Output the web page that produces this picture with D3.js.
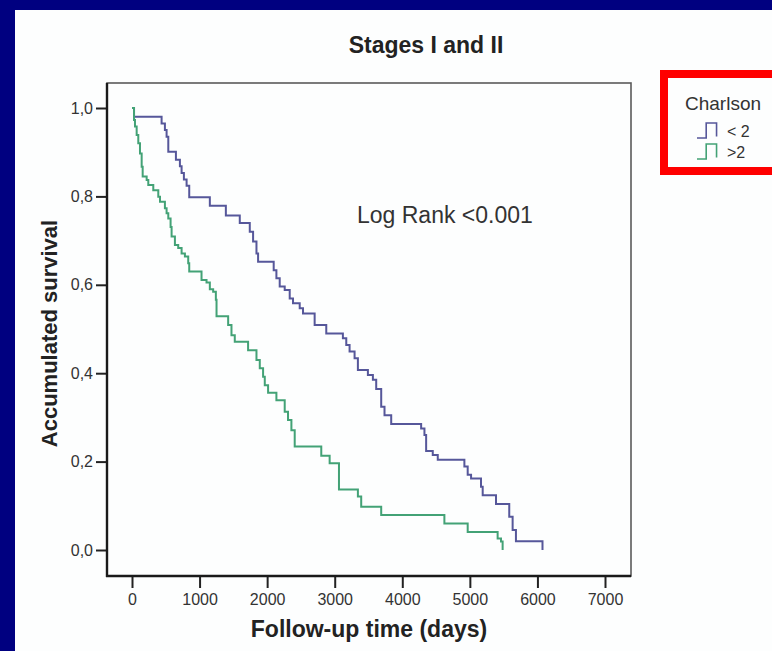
<!DOCTYPE html>
<html>
<head>
<meta charset="utf-8">
<script src="https://cdn.jsdelivr.net/npm/d3@7/dist/d3.min.js"></script>
<style>
    body { margin: 0; background: #000080; }
    svg { display: block; }
    text { font-family: "Liberation Sans", Arial, sans-serif; }
</style>
</head>
<body>
<div id="chart"></div>
<script>
// Kaplan-Meier steps: time in days, survival after that time
let lowTimes = [0, 30, 438, 487, 512, 537, 650, 709, 734, 768, 808, 847, 1152, 1389, 1595, 1743,
    1792, 1842, 1866, 2097, 2137, 2186, 2260, 2334, 2383, 2482, 2531, 2703, 2875, 3121, 3171,
    3220, 3294, 3343, 3491, 3565, 3614, 3688, 3737, 3836, 4279, 4328, 4353, 4451, 4525, 4919,
    4968, 5018, 5165, 5190, 5387, 5583, 5633, 5682, 6075];
let lowSurv = [1.0, 0.980, 0.965, 0.950, 0.935, 0.901, 0.883, 0.868, 0.853, 0.838, 0.824, 0.798,
    0.779, 0.757, 0.740, 0.720, 0.698, 0.671, 0.652, 0.633, 0.615, 0.596, 0.588, 0.569, 0.558,
    0.547, 0.535, 0.509, 0.490, 0.479, 0.464, 0.449, 0.434, 0.407, 0.396, 0.385, 0.364, 0.324,
    0.305, 0.285, 0.275, 0.260, 0.224, 0.215, 0.204, 0.189, 0.170, 0.162, 0.143, 0.124, 0.104,
    0.075, 0.045, 0.020, 0.0];

let highTimes = [0, 30, 44, 69, 93, 118, 143, 158, 217, 241, 315, 389, 414, 487, 512, 537, 571,
    586, 635, 684, 734, 783, 832, 847, 1029, 1103, 1152, 1201, 1241, 1251, 1423, 1472, 1521,
    1718, 1842, 1891, 1940, 1965, 2014, 2137, 2260, 2309, 2359, 2408, 2801, 2925, 3063, 3343,
    3392, 3688, 4623, 4968, 5411, 5461, 5485];
let highSurv = [1.0, 0.973, 0.958, 0.939, 0.920, 0.897, 0.867, 0.845, 0.837, 0.826, 0.814, 0.799,
    0.788, 0.773, 0.762, 0.750, 0.731, 0.709, 0.690, 0.683, 0.671, 0.664, 0.649, 0.630, 0.611,
    0.605, 0.590, 0.584, 0.566, 0.529, 0.509, 0.486, 0.471, 0.452, 0.430, 0.411, 0.392, 0.373,
    0.356, 0.339, 0.313, 0.294, 0.271, 0.234, 0.213, 0.196, 0.137, 0.121, 0.098, 0.079, 0.060,
    0.041, 0.026, 0.019, 0.0];

let xTicks = [0, 1000, 2000, 3000, 4000, 5000, 6000, 7000];
let yTicks = [0, 0.2, 0.4, 0.6, 0.8, 1.0];
let groupNames = ["< 2", ">2"];
let groupColors = ["#56579a", "#43a276"];

let svgWidth = 772, svgHeight = 651;
// plot frame
let frame = {left: 107, top: 83, right: 631, bottom: 576};

let svg = d3.select("#chart").append("svg")
    .attr("width", svgWidth)
    .attr("height", svgHeight);

// blue slide background and white panel
svg.append("rect")
    .attr("width", svgWidth).attr("height", svgHeight)
    .attr("fill", "#000080");
svg.append("rect")
    .attr("x", 15).attr("y", 10)
    .attr("width", svgWidth - 15).attr("height", svgHeight - 10)
    .attr("fill", "#fdfefe");

let xScale = d3.scaleLinear()
    .domain([0, 7000])
    .range([132, 605]);

let yScale = d3.scaleLinear()
    .domain([0, 1])
    .range([550, 108]);

// frame: thin grey top/right, darker axes left/bottom
svg.append("rect")
    .attr("x", frame.left).attr("y", frame.top)
    .attr("width", frame.right - frame.left)
    .attr("height", frame.bottom - frame.top)
    .attr("fill", "none")
    .attr("stroke", "#5a5a5a")
    .attr("stroke-width", 1.6);

let commaFormat = d => d3.format(".1f")(d).replace(".", ",");

let yAxis = svg.append("g")
    .attr("transform", `translate(${frame.left},0)`)
    .call(d3.axisLeft(yScale).tickValues(yTicks).tickFormat(commaFormat)
        .tickSize(11).tickSizeOuter(0).tickPadding(3));
yAxis.select(".domain").remove();
yAxis.selectAll("line").attr("stroke", "#222").attr("stroke-width", 2);
yAxis.selectAll("text")
    .attr("font-size", "16px")
    .attr("fill", "#333")
    .attr("font-family", "Liberation Sans, Arial, sans-serif");

let xAxis = svg.append("g")
    .attr("transform", `translate(0,${frame.bottom})`)
    .call(d3.axisBottom(xScale).tickValues(xTicks).tickFormat(d3.format("d"))
        .tickSize(12).tickSizeOuter(0).tickPadding(6));
xAxis.select(".domain").remove();
xAxis.selectAll("line").attr("stroke", "#222").attr("stroke-width", 2);
xAxis.selectAll("text")
    .attr("font-size", "16px")
    .attr("fill", "#333")
    .attr("font-family", "Liberation Sans, Arial, sans-serif");

// darker axis lines
svg.append("line")
    .attr("x1", frame.left).attr("x2", frame.left)
    .attr("y1", frame.top).attr("y2", frame.bottom + 1)
    .attr("stroke", "#1a1a1a").attr("stroke-width", 2.4);
svg.append("line")
    .attr("x1", frame.left - 1).attr("x2", frame.right)
    .attr("y1", frame.bottom).attr("y2", frame.bottom)
    .attr("stroke", "#1a1a1a").attr("stroke-width", 2.4);

// survival curves
let stepLine = d3.line()
    .x(d => xScale(d[0]))
    .y(d => yScale(d[1]))
    .curve(d3.curveStepAfter);

let curves = [d3.zip(lowTimes, lowSurv), d3.zip(highTimes, highSurv)];

svg.selectAll(".km")
    .data(curves)
    .enter().append("path")
    .attr("class", "km")
    .attr("d", stepLine)
    .attr("fill", "none")
    .attr("stroke", (d, i) => groupColors[i])
    .attr("stroke-width", 2);

// titles
svg.append("text")
    .attr("x", 426).attr("y", 53)
    .attr("text-anchor", "middle")
    .attr("font-size", "23px")
    .attr("font-weight", "bold")
    .attr("fill", "#222")
    .text("Stages I and II");

svg.append("text")
    .attr("x", (frame.left + frame.right) / 2).attr("y", 637)
    .attr("text-anchor", "middle")
    .attr("font-size", "23px")
    .attr("font-weight", "bold")
    .attr("fill", "#222")
    .text("Follow-up time (days)");

svg.append("text")
    .attr("transform", `translate(57,${(frame.top + frame.bottom) / 2 + 4}) rotate(-90)`)
    .attr("text-anchor", "middle")
    .attr("font-size", "22px")
    .attr("font-weight", "bold")
    .attr("fill", "#222")
    .text("Accumulated survival");

svg.append("text")
    .attr("x", 357).attr("y", 223)
    .attr("font-size", "23px")
    .attr("fill", "#333")
    .text("Log Rank <0.001");

// legend in red box
let legend = svg.append("g");
legend.append("rect")
    .attr("x", 664).attr("y", 74)
    .attr("width", 200).attr("height", 97)
    .attr("fill", "#fdfefe")
    .attr("stroke", "#ff0000")
    .attr("stroke-width", 8);

legend.append("text")
    .attr("x", 685).attr("y", 110)
    .attr("font-size", "19px")
    .attr("fill", "#333")
    .text("Charlson");

let iconX = d3.scaleLinear().domain([0, 1]).range([697, 720]);
let iconShape = [[0, 0], [0.4, 1], [0.85, 0.1], [0.85, 0.1]];

let items = legend.selectAll(".item")
    .data(groupNames)
    .enter().append("g")
    .attr("class", "item")
    .attr("transform", (d, i) => `translate(0,${i * 21})`);

items.append("path")
    .attr("d", () => {
        let iconY = d3.scaleLinear().domain([0, 1]).range([138, 123]);
        return d3.line().x(p => iconX(p[0])).y(p => iconY(p[1]))
            .curve(d3.curveStepAfter)(iconShape);
    })
    .attr("fill", "none")
    .attr("stroke", (d, i) => groupColors[i])
    .attr("stroke-width", 1.6);

items.append("text")
    .attr("x", 727).attr("y", 137)
    .attr("font-size", "16px")
    .attr("fill", "#333")
    .text(d => d);
</script>
</body>
</html>
